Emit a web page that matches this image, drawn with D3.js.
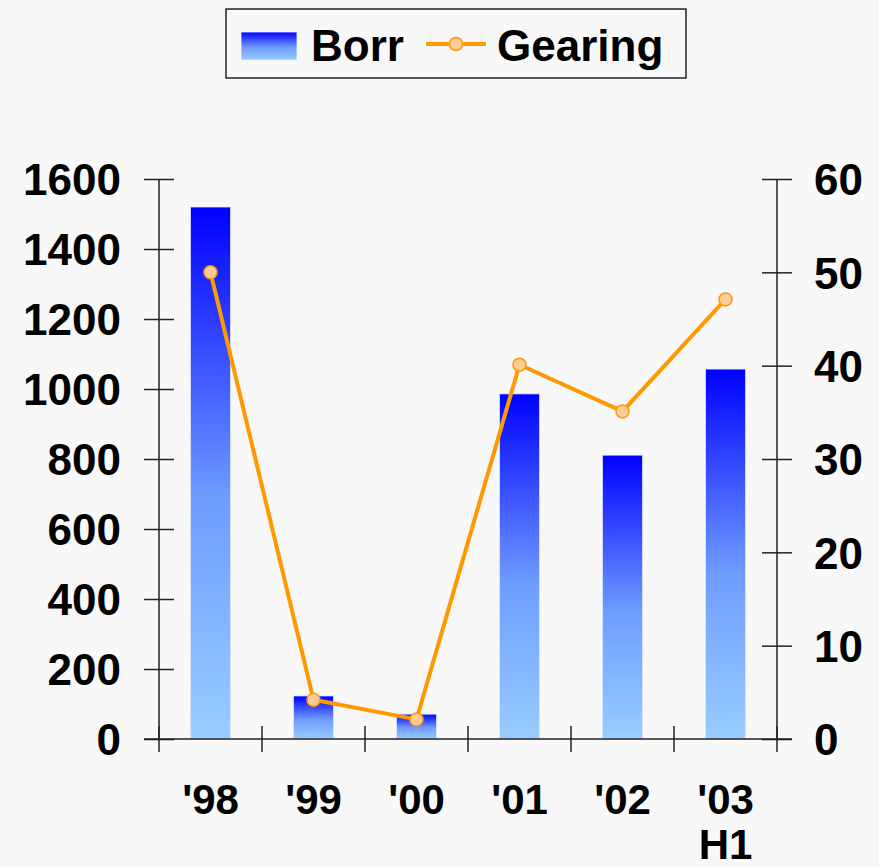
<!DOCTYPE html>
<html lang="en">
<head>
    <meta charset="utf-8">
    <title>Borr / Gearing</title>
    <script type="text/javascript" src="https://d3js.org/d3.v7.min.js"></script>
    <style type="text/css">
        html, body {
            margin: 0;
            padding: 0;
            background: #f8f8f8;
        }
        svg text {
            font-family: "Liberation Sans", Arial, sans-serif;
            font-weight: bold;
            fill: #000;
        }
        .axis path, .axis line {
            stroke: #222;
            stroke-width: 1.5;
            fill: none;
        }
    </style>
</head>
<body>
<div id="viz"></div>
<script type="text/javascript">
    var categories = ["'98", "'99", "'00", "'01", "'02", "'03\nH1"];
    var borr = [1520, 123, 71, 986, 811, 1057];
    var gearing = [50.0, 4.2, 2.1, 40.1, 35.1, 47.1];
    var leftTicks = [0, 200, 400, 600, 800, 1000, 1200, 1400, 1600];
    var rightTicks = [0, 10, 20, 30, 40, 50, 60];

    var W = 879, H = 867;
    var x0 = 159, x1 = 777, yTop = 179, yBot = 739;

    var svg = d3.select("#viz").append("svg")
        .attr("width", W)
        .attr("height", H);

    var defs = svg.append("defs");
    var grad = defs.append("linearGradient")
        .attr("id", "barGrad")
        .attr("x1", 0).attr("y1", 0).attr("x2", 0).attr("y2", 1);
    grad.append("stop").attr("offset", "0%").attr("stop-color", "#0000ff");
    grad.append("stop").attr("offset", "55%").attr("stop-color", "#6f9cff");
    grad.append("stop").attr("offset", "100%").attr("stop-color", "#99ccff");

    var x = d3.scaleBand()
        .domain(categories)
        .range([x0, x1])
        .paddingInner(0.61)
        .paddingOuter(0.305);

    var band = d3.scaleBand().domain(categories).range([x0, x1]);

    var yL = d3.scaleLinear().domain([0, 1600]).range([yBot, yTop]);
    var yR = d3.scaleLinear().domain([0, 60]).range([yBot, yTop]);

    // bars
    svg.selectAll(".bar")
        .data(borr)
        .enter()
        .append("rect")
        .attr("class", "bar")
        .attr("x", function(d, i) { return x(categories[i]); })
        .attr("width", x.bandwidth())
        .attr("y", function(d) { return yL(d); })
        .attr("height", function(d) { return yBot - yL(d); })
        .attr("fill", "url(#barGrad)")
        .attr("stroke", "#dde6ff")
        .attr("stroke-width", 0.8);

    // left axis
    var leftAxis = svg.append("g").attr("class", "axis")
        .attr("transform", "translate(" + x0 + ",0)")
        .call(d3.axisLeft(yL).tickValues(leftTicks).tickFormat(d3.format("d"))
            .tickSize(0).tickPadding(38));
    leftAxis.select(".domain").attr("d", "M0," + yTop + "V" + yBot);
    leftAxis.selectAll(".tick line").attr("x1", -15).attr("x2", 15);
    leftAxis.selectAll("text").style("font-size", "44px").attr("dy", "0.36em");

    // right axis
    var rightAxis = svg.append("g").attr("class", "axis")
        .attr("transform", "translate(" + x1 + ",0)")
        .call(d3.axisRight(yR).tickValues(rightTicks).tickFormat(d3.format("d"))
            .tickSize(0).tickPadding(37));
    rightAxis.select(".domain").attr("d", "M0," + yTop + "V" + yBot);
    rightAxis.selectAll(".tick line").attr("x1", -15).attr("x2", 15);
    rightAxis.selectAll("text").style("font-size", "44px").attr("dy", "0.36em");

    // bottom axis
    var bottom = svg.append("g").attr("class", "axis");
    bottom.append("line")
        .attr("x1", 144).attr("x2", 792)
        .attr("y1", yBot).attr("y2", yBot);
    var tickX = categories.map(function(c) { return band(c); }).concat([x1]);
    bottom.selectAll(".xtick")
        .data(tickX)
        .enter()
        .append("line")
        .attr("class", "xtick")
        .attr("x1", function(d) { return d; })
        .attr("x2", function(d) { return d; })
        .attr("y1", yBot - 13)
        .attr("y2", yBot + 13);

    var labels = svg.selectAll(".xlabel")
        .data(categories)
        .enter()
        .append("text")
        .attr("class", "xlabel")
        .attr("text-anchor", "middle")
        .style("font-size", "42px")
        .attr("x", function(d) { return band(d) + band.bandwidth() / 2; })
        .attr("y", 814);
    labels.each(function(d) {
        var parts = d.split("\n");
        var t = d3.select(this);
        parts.forEach(function(p, j) {
            t.append("tspan")
                .attr("x", t.attr("x"))
                .attr("dy", j === 0 ? 0 : 45)
                .text(p);
        });
    });

    // gearing line
    var cx = function(i) { return band(categories[i]) + band.bandwidth() / 2; };
    var line = d3.line()
        .x(function(d, i) { return cx(i); })
        .y(function(d) { return yR(d); });

    svg.append("path")
        .datum(gearing)
        .attr("d", line)
        .attr("fill", "none")
        .attr("stroke", "#ff9900")
        .attr("stroke-width", 4)
        .attr("stroke-linejoin", "round");

    svg.selectAll(".pt")
        .data(gearing)
        .enter()
        .append("circle")
        .attr("class", "pt")
        .attr("cx", function(d, i) { return cx(i); })
        .attr("cy", function(d) { return yR(d); })
        .attr("r", 6.5)
        .attr("fill", "#ffcc99")
        .attr("stroke", "#ff9900")
        .attr("stroke-width", 1.5);

    // legend
    var lg = svg.append("g");
    lg.append("rect")
        .attr("x", 226).attr("y", 9)
        .attr("width", 460).attr("height", 69)
        .attr("fill", "#f8f8f8")
        .attr("stroke", "#222")
        .attr("stroke-width", 1.5);
    lg.append("rect")
        .attr("x", 241).attr("y", 32)
        .attr("width", 56).attr("height", 28)
        .attr("fill", "url(#barGrad)")
        .attr("stroke", "#f0f4ff")
        .attr("stroke-width", 0.8);
    lg.append("text")
        .attr("x", 311).attr("y", 61)
        .style("font-size", "44px")
        .text("Borr");
    lg.append("line")
        .attr("x1", 426).attr("x2", 486)
        .attr("y1", 44).attr("y2", 44)
        .attr("stroke", "#ff9900")
        .attr("stroke-width", 4);
    lg.append("circle")
        .attr("cx", 456).attr("cy", 44).attr("r", 6.5)
        .attr("fill", "#ffcc99")
        .attr("stroke", "#ff9900")
        .attr("stroke-width", 1.5);
    lg.append("text")
        .attr("x", 497).attr("y", 61)
        .style("font-size", "44px")
        .text("Gearing");
</script>
</body>
</html>
